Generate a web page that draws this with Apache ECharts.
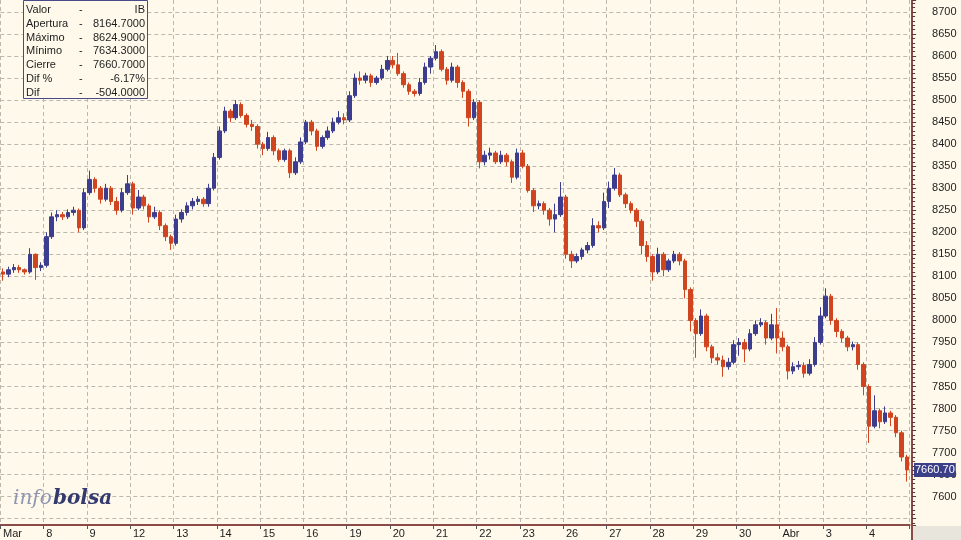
<!DOCTYPE html>
<html><head><meta charset="utf-8">
<script src="https://cdn.jsdelivr.net/npm/echarts@6/dist/echarts.min.js"></script>
<style>html,body{margin:0;padding:0;background:#fef9eb}#c{width:961px;height:540px}</style>
</head><body><div id="c"></div>
<script>
// ---- data (IBEX 35, 7 Mar - 4 Apr) ----
const dayLabels = ['Mar','8','9','12','13','14','15','16','19','20','21','22','23','26','27','28','29','30','Abr','3','4'];
const slotLabels = ['09:00','10:00','11:00','12:00','13:00','14:00','15:00','16:00'];

const opens = [
  [8110,8105,8115,8120,8115,8110,8150,8120],
  [8125,8190,8235,8240,8235,8245,8250,8210],
  [8290,8320,8300,8275,8300,8270,8250,8290],
  [8310,8255,8280,8260,8235,8245,8215,8190],
  [8175,8230,8245,8260,8270,8275,8265,8300],
  [8370,8430,8475,8460,8490,8465,8445,8440],
  [8400,8390,8415,8385,8365,8385,8335,8360],
  [8405,8450,8430,8395,8415,8430,8450,8460],
  [8455,8510,8550,8545,8555,8540,8550,8570],
  [8590,8580,8560,8535,8520,8515,8540,8575],
  [8595,8610,8570,8545,8575,8540,8520,8460],
  [8495,8360,8375,8380,8360,8375,8360,8325],
  [8380,8350,8295,8260,8265,8250,8230,8240],
  [8280,8150,8135,8145,8160,8170,8215,8210],
  [8270,8300,8330,8285,8265,8250,8225,8170],
  [8145,8110,8150,8115,8135,8150,8135,8070],
  [8000,7970,8010,7940,7915,7910,7895,7905],
  [7945,7950,7935,7970,7990,7995,7960,7990],
  [7960,7940,7885,7895,7898,7880,7900,7950],
  [8010,8055,8000,7975,7960,7940,7945,7900],
  [7850,7760,7795,7770,7790,7780,7745,7690]
];
const closes = [
  [8105,8115,8120,8115,8110,8150,8120,8125],
  [8190,8235,8240,8235,8245,8250,8210,8290],
  [8320,8300,8275,8300,8270,8250,8290,8310],
  [8255,8280,8260,8235,8245,8215,8190,8175],
  [8230,8245,8260,8270,8275,8265,8300,8370],
  [8430,8475,8460,8490,8465,8445,8440,8400],
  [8390,8415,8385,8365,8385,8335,8360,8405],
  [8450,8430,8395,8415,8430,8450,8460,8455],
  [8510,8550,8545,8555,8540,8550,8570,8590],
  [8580,8560,8535,8520,8515,8540,8575,8595],
  [8610,8570,8545,8575,8540,8520,8460,8495],
  [8360,8375,8380,8360,8375,8360,8325,8380],
  [8350,8295,8260,8265,8250,8230,8240,8280],
  [8150,8135,8145,8160,8170,8215,8210,8270],
  [8300,8330,8285,8265,8250,8225,8170,8145],
  [8110,8150,8115,8135,8150,8135,8070,8000],
  [7970,8010,7940,7915,7910,7895,7905,7945],
  [7950,7935,7970,7990,7995,7960,7990,7960],
  [7940,7885,7895,7898,7880,7900,7950,8010],
  [8055,8000,7975,7960,7940,7945,7900,7850],
  [7760,7795,7770,7790,7780,7745,7690,7660.7]
];
const lows = [
  [8090,8098,8108,8108,8104,8106,8092,8112],
  [8120,8185,8225,8228,8230,8238,8200,8205],
  [8285,8290,8265,8270,8262,8240,8245,8285],
  [8240,8250,8252,8222,8230,8205,8180,8160],
  [8170,8222,8238,8252,8262,8258,8258,8295],
  [8365,8425,8450,8455,8460,8438,8430,8390],
  [8375,8385,8375,8360,8360,8323,8330,8355],
  [8400,8420,8385,8390,8410,8425,8445,8445],
  [8450,8505,8535,8538,8530,8535,8545,8565],
  [8572,8555,8528,8512,8508,8510,8535,8560],
  [8590,8565,8535,8540,8528,8505,8440,8455],
  [8345,8352,8365,8355,8355,8350,8312,8320],
  [8345,8290,8246,8252,8240,8215,8200,8235],
  [8140,8119,8130,8138,8152,8165,8200,8205],
  [8255,8295,8280,8255,8243,8212,8150,8133],
  [8090,8105,8100,8110,8130,8125,8050,7975],
  [7915,7965,7930,7903,7900,7872,7888,7900],
  [7920,7905,7930,7965,7985,7945,7955,7925],
  [7930,7866,7878,7888,7870,7875,7895,7945],
  [8005,7990,7962,7950,7930,7932,7888,7830],
  [7722,7755,7755,7765,7760,7735,7680,7634.3]
];
const highs = [
  [8118,8122,8128,8126,8118,8164,8152,8132],
  [8200,8245,8250,8246,8252,8258,8254,8300],
  [8340,8325,8305,8310,8305,8280,8300,8330],
  [8315,8296,8285,8265,8258,8250,8220,8195],
  [8240,8252,8268,8278,8282,8280,8310,8380],
  [8440,8485,8480,8500,8495,8470,8455,8445],
  [8405,8428,8420,8390,8390,8390,8370,8415],
  [8455,8455,8435,8420,8440,8460,8475,8470],
  [8520,8560,8565,8562,8560,8555,8580,8600],
  [8600,8607,8565,8540,8525,8550,8585,8600],
  [8624.9,8615,8575,8585,8580,8545,8525,8502],
  [8500,8385,8392,8385,8385,8380,8365,8390],
  [8387,8355,8300,8272,8270,8255,8265,8314],
  [8285,8158,8152,8165,8178,8232,8225,8290],
  [8315,8346,8335,8290,8270,8255,8230,8180],
  [8150,8165,8155,8140,8158,8155,8140,8075],
  [8005,8025,8015,7945,7925,7920,7915,7955],
  [7960,7958,7980,8000,8005,8000,8015,8028],
  [7975,7945,7905,7908,7905,7912,7962,8030],
  [8073,8060,8005,7980,7965,7952,7950,7905],
  [7855,7830,7800,7805,7795,7785,7750,7695]
];
const infoRows = [
  ['Valor','IB'],
  ['Apertura','8164.7000'],
  ['Máximo','8624.9000'],
  ['Mínimo','7634.3000'],
  ['Cierre','7660.7000'],
  ['Dif %','-6.17%'],
  ['Dif','-504.0000']
];
const lastPrice = 7660.7;
const yMin = 7535.7, yMax = 8727.2, firstLabel = 7600;

// ---- build ----
const cats = [], ohlc = [];
dayLabels.forEach((d, i) => slotLabels.forEach((s, j) => {
  cats.push(d + ' ' + s);
  ohlc.push([opens[i][j], closes[i][j], lows[i][j], highs[i][j]]);
}));
const isDayStart = idx => idx % slotLabels.length === 0;
const FONT = '"Liberation Sans", Arial, sans-serif';
const grid = '#bdb8ae';

const infoGraphics = [{
  type: 'rect', shape: {x: 23.5, y: 0.5, width: 124, height: 98},
  style: {fill: '#fef9eb', stroke: '#4a4a88', lineWidth: 1}, z: 100
}];
infoRows.forEach((r, i) => {
  const y = 10 + i * 13.8;
  infoGraphics.push({type:'text', z:101, style:{text:r[0], x:26, y:y, font:'11px ' + FONT, fill:'#1e1e1e', align:'left', textAlign:'left', verticalAlign:'middle', textVerticalAlign:'middle'}});
  infoGraphics.push({type:'text', z:101, style:{text:'-', x:79, y:y, font:'11px ' + FONT, fill:'#1e1e1e', align:'left', textAlign:'left', verticalAlign:'middle', textVerticalAlign:'middle'}});
  infoGraphics.push({type:'text', z:101, style:{text:r[1], x:145, y:y, font:'11px ' + FONT, fill:'#1e1e1e', align:'right', textAlign:'right', verticalAlign:'middle', textVerticalAlign:'middle'}});
});

const chart = echarts.init(document.getElementById('c'));
const baseGraphics = infoGraphics.concat([
  {type:'text', z:100, style:{text:'info', x:13, y:499, font:'italic 20px "DejaVu Serif", serif', fill:'#9096b2', align:'left', textAlign:'left', verticalAlign:'middle', textVerticalAlign:'middle'}},
  {type:'text', z:100, style:{text:'bolsa', x:53, y:499, font:'italic bold 20px "DejaVu Serif", serif', fill:'#343a6e', align:'left', textAlign:'left', verticalAlign:'middle', textVerticalAlign:'middle'}},
  {type:'rect', z:100, shape:{x:913, y:526, width:48, height:14}, style:{fill:'#e8e5dd'}},
  {type:'line', z:100, shape:{x1:912, y1:524, x2:912, y2:540}, style:{stroke:'#8a4a48', lineWidth:2}}
]);
chart.setOption({
  backgroundColor: '#fef9eb',
  animation: false,
  grid: {left: -4.5, right: 51.4, top: 0, bottom: 15},
  xAxis: {
    type: 'category', data: cats, boundaryGap: true,
    axisLine: {lineStyle: {color: '#8a4a48', width: 2}},
    axisTick: {show: true, interval: (i) => isDayStart(i), length: 4, lineStyle: {color: '#555'}},
    axisLabel: {interval: (i) => isDayStart(i), formatter: v => v.split(' ')[0], align: 'left',
                margin: 3, color: '#1e1e1e', fontSize: 11, fontFamily: FONT},
    splitLine: {show: true, interval: (i) => isDayStart(i), lineStyle: {color: grid, type: [4, 3]}}
  },
  yAxis: {
    type: 'value', position: 'right', offset: 2.5, min: yMin, max: yMax,
    splitNumber: 24, minInterval: 50, maxInterval: 50,
    axisLine: {show: true, lineStyle: {color: '#8a4a48', width: 2}},
    axisTick: {show: true, length: 4, lineStyle: {color: '#5a3a3a'}},
    minorTick: {show: true, splitNumber: 5, length: 3, lineStyle: {color: '#5a3a3a'}},
    axisLabel: {margin: 20, color: '#1e1e1e', fontSize: 11, fontFamily: FONT, showMinLabel: false, showMaxLabel: false,
                formatter: v => (v >= firstLabel ? String(v) : '')},
    splitLine: {show: true, showMinLine: false, showMaxLine: false, lineStyle: {color: grid, type: [4, 3]}}
  },
  series: [{
    type: 'candlestick', data: ohlc, barWidth: 4,
    itemStyle: {color: '#3d3d8f', color0: '#d0451f', borderColor: '#3d3d8f', borderColor0: '#d0451f', borderWidth: 1}
  }],
  graphic: baseGraphics
});
// last-price tag positioned through the y scale
const py = chart.convertToPixel({yAxisIndex: 0}, lastPrice);
chart.setOption({graphic: baseGraphics.concat([{
  type: 'text', z: 102,
  style: {text: lastPrice.toFixed(2), x: 914, y: py, font: '11px ' + FONT, fill: '#ffffff',
          backgroundColor: '#3b3f88', padding: [2, 1, 1, 1],
          align: 'left', textAlign: 'left', verticalAlign: 'middle', textVerticalAlign: 'middle'}
}])});
</script></body></html>
